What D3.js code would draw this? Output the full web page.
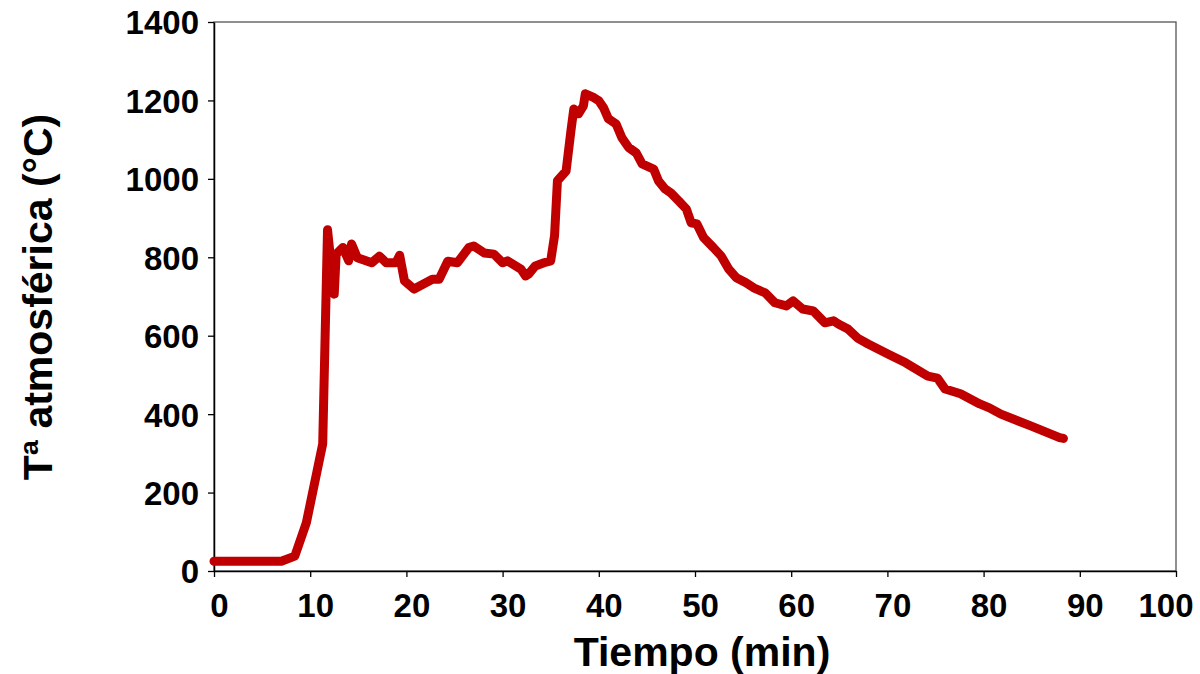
<!DOCTYPE html>
<html><head><meta charset="utf-8">
<script src="https://cdn.jsdelivr.net/npm/d3@7"></script>
<style>body{margin:0;background:#fff}svg{display:block}text{font-family:"Liberation Sans",Arial,sans-serif;font-weight:bold;fill:#000}</style>
</head><body>
<svg id="c" width="1200" height="674"></svg>
<script>
const time = [0,2,4,6,7,8.4,9.6,11.3,11.8,12.5,12.7,13.4,14,14.3,14.9,16.4,17.2,17.9,18.9,19.3,19.8,20.8,22.7,23.4,24.3,25.3,26.5,27,28.1,29.1,30,30.5,31.9,32.4,32.7,33.4,34.3,35,35.4,35.7,36.6,37.1,37.4,37.9,38.4,38.6,39.5,40,40.5,41,41.8,42.4,43.1,43.9,44.5,45.7,46.2,46.9,47.5,48.3,49.1,49.6,50.2,50.9,51.9,52.7,53.5,54.3,55.3,56.1,57.3,58.3,59.5,60.2,61.2,62.3,63.5,64.4,64.9,65.9,66.9,68,70.1,71.9,74.2,75.2,76,77.6,79.6,80.6,81.8,84.9,87.9,88.3];
const temp = [25,25,25,25,25,38,123,324,870,706,808,825,791,834,799,786,803,786,786,805,740,719,744,744,790,786,825,829,811,808,786,791,770,752,757,778,786,791,855,995,1020,1122,1178,1166,1186,1217,1207,1199,1181,1153,1140,1105,1080,1066,1038,1025,995,974,964,944,923,888,885,850,825,804,770,748,735,722,709,684,676,689,668,663,633,638,630,617,594,579,553,531,497,492,464,452,426,416,400,370,340,338];
const xTicks = [0,10,20,30,40,50,60,70,80,90,100];
const yTicks = [0,200,400,600,800,1000,1200,1400];
const xTitle = "Tiempo (min)";
const yTitle = "Tª atmosférica (°C)";

const svg = d3.select("#c");
const L=214, R=1176, T=22, B=571;
const x = d3.scaleLinear().domain([0,100]).range([L,R]);
const y = d3.scaleLinear().domain([0,1400]).range([B,T]);

svg.append("rect").attr("x",L).attr("y",T).attr("width",R-L).attr("height",B-T)
  .attr("fill","none").attr("stroke","#555").attr("stroke-width",1.3);

const fmt = d3.format("d");
const xa = svg.append("g").attr("transform",`translate(0,${B})`)
  .call(d3.axisBottom(x).tickValues(xTicks).tickFormat(fmt).tickSize(6).tickSizeOuter(0).tickPadding(8));
const ya = svg.append("g").attr("transform",`translate(${L},0)`)
  .call(d3.axisLeft(y).tickValues(yTicks).tickFormat(fmt).tickSize(6).tickSizeOuter(0).tickPadding(9));
[xa,ya].forEach(a=>{
  a.select(".domain").attr("stroke","#000").attr("stroke-width",1.5);
  a.selectAll(".tick line").attr("stroke","#000").attr("stroke-width",1.3);
  a.selectAll(".tick text").attr("font-size",33).attr("font-weight","bold").attr("fill","#000")
   .attr("font-family","Liberation Sans, Arial, sans-serif");
});
xa.selectAll(".tick text").attr("dy","0.98em").attr("dx",5);
xa.selectAll(".tick text").filter(d=>d===100).attr("text-anchor","end").attr("dx",17);
ya.selectAll(".tick text").attr("dy","0.36em");

const data = time.map((t,i)=>[t,temp[i]]);
svg.append("path").datum(data)
  .attr("fill","none").attr("stroke","#C00000").attr("stroke-width",9)
  .attr("stroke-linejoin","round").attr("stroke-linecap","round")
  .attr("d", d3.line().x(d=>x(d[0])).y(d=>y(d[1])));

svg.append("text").attr("x",702).attr("y",666).attr("text-anchor","middle")
  .attr("font-size",41).text(xTitle);
svg.append("text").attr("transform","translate(52,297) rotate(-90)").attr("text-anchor","middle")
  .attr("font-size",41).text(yTitle);
</script>
</body></html>
